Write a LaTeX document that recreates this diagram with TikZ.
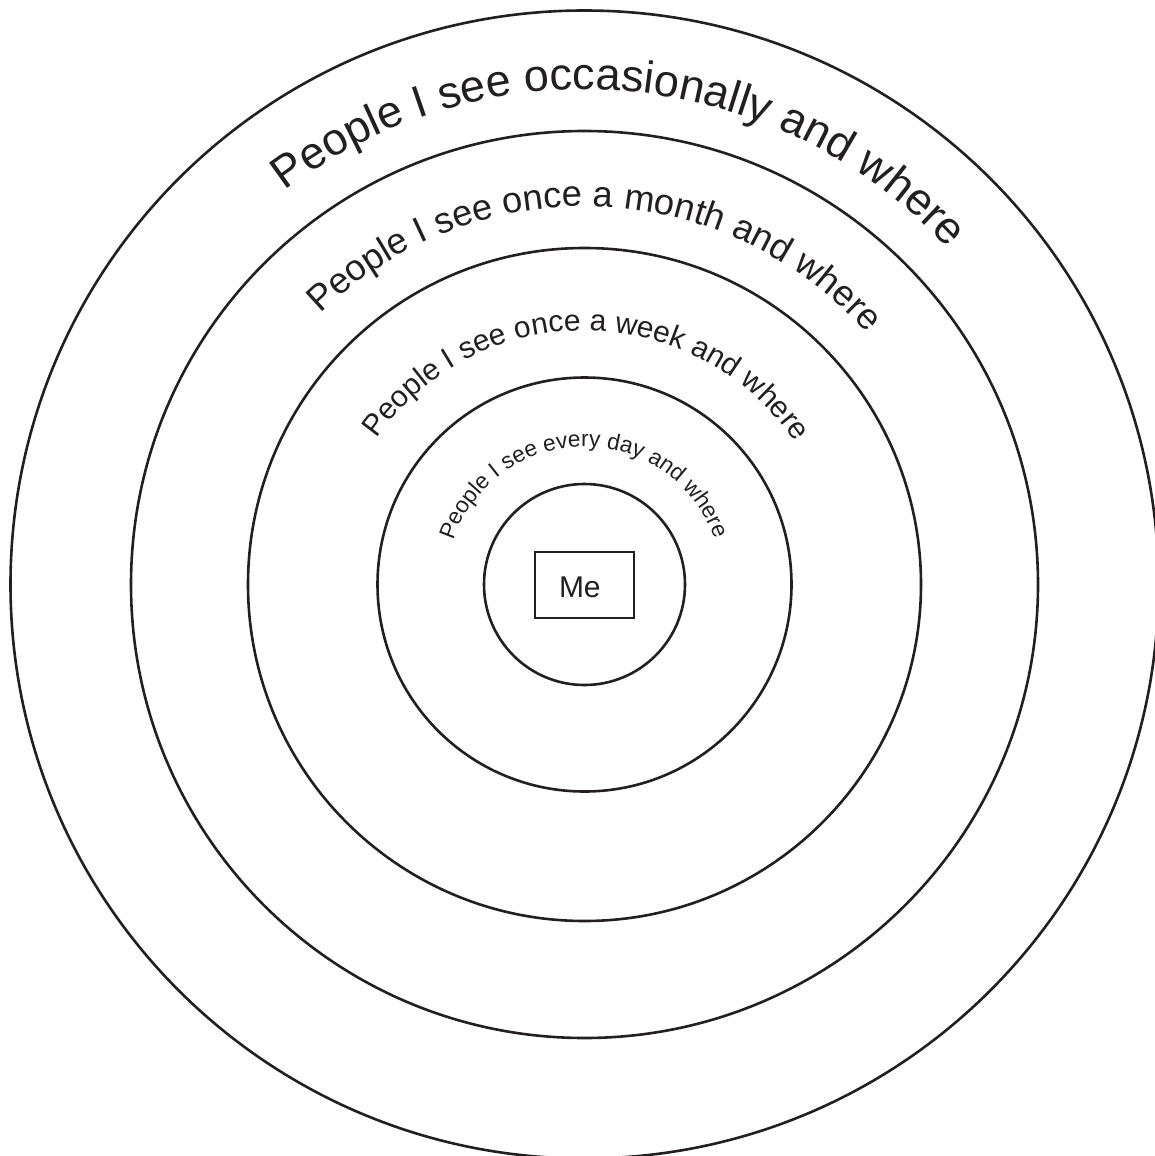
\documentclass[tikz,border=0pt]{standalone}
\usepackage{fontspec}
\setmainfont{Liberation Sans}
\usetikzlibrary{decorations.text}
\definecolor{ink}{RGB}{35,31,32}
\begin{document}
\begin{tikzpicture}[x=1pt,y=1pt,
  ring/.style={circle, draw=ink, line width=2.6pt, inner sep=0pt, outer sep=0pt},
  mebox/.style={rectangle, draw=ink, text=ink, line width=2.4pt, minimum width=99pt,
    minimum height=66pt, inner sep=0pt, font=\fontsize{30}{36}\selectfont},
  arctext/.style={decorate, decoration={text along path, text align=center,
    text color=ink, text={#1}}}]
\useasboundingbox (0,-1156) rectangle (1155,0);
\coordinate (c) at (584.5,-584.5);
% rings
\node[ring, minimum size=1148pt] (r1) at (c) {};
\node[ring, minimum size=907pt]  (r2) at (c) {};
\node[ring, minimum size=673pt]  (r3) at (c) {};
\node[ring, minimum size=414pt]  (r4) at (c) {};
\node[ring, minimum size=201pt]  (r5) at (c) {};
% curved labels
\path[arctext={|\fontsize{45}{54}\selectfont|People I see occasionally and where}]
  ([shift={(165:495)}]c) arc[start angle=165, end angle=5, radius=495];
\path[arctext={|\fontsize{36.3}{44}\selectfont|People I see once a month and where}]
  ([shift={(168:378)}]c) arc[start angle=168, end angle=8, radius=378];
\path[arctext={|\fontsize{30}{36}\selectfont|People I see once a week and where}]
  ([shift={(169.5:254)}]c) arc[start angle=169.5, end angle=9.5, radius=254];
\path[arctext={|\fontsize{22.7}{27}\selectfont|People I see every day and where}]
  ([shift={(175.4:138)}]c) arc[start angle=175.4, end angle=5.4, radius=138];
% centre box
\node[mebox] (me) at (584.5,-585) {\raisebox{-2.5pt}[\height][\depth]{\makebox[99pt][l]{\hspace{24pt}Me}}};
\end{tikzpicture}
\end{document}
